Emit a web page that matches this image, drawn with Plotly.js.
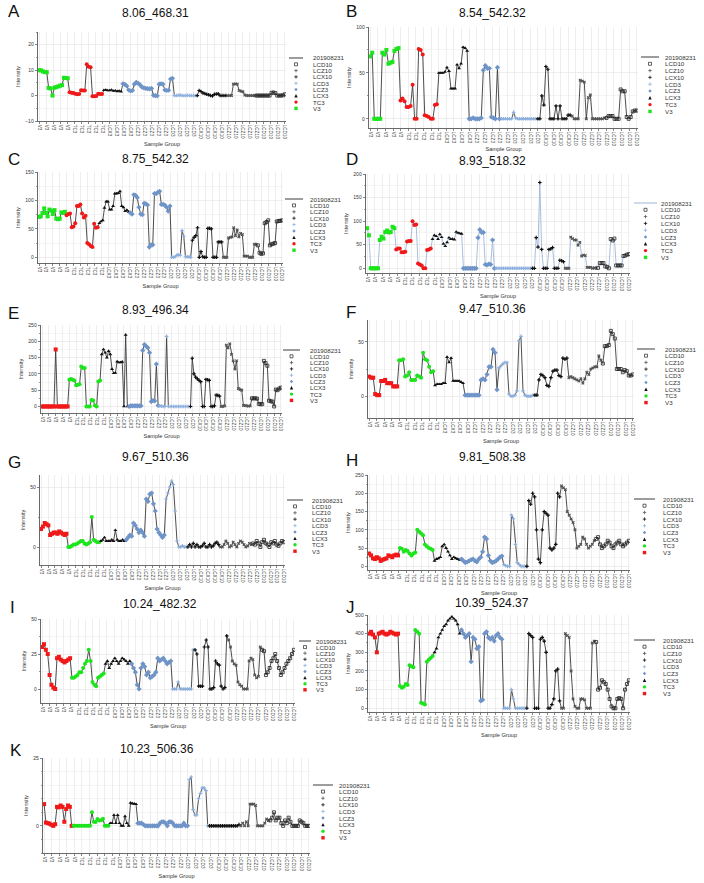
<!DOCTYPE html>
<html><head><meta charset="utf-8">
<script src="https://cdn.plot.ly/plotly-3.0.1.min.js"></script>
<style>html,body{margin:0;padding:0;background:#fff}#chart{width:704px;height:883px}</style>
</head><body><div id="chart"></div>
<script>
// ---------------- DATA ----------------
const GROUPS = ['V3','TC3','LCX3','LCZ3','LCD3','LCX10','LCZ10','LCD10'];
const LEGEND_ORDER = ['LCD10','LCZ10','LCX10','LCD3','LCZ3','LCX3','TC3','V3'];
const SERIES_NAME = '201908231';
const TICK_LABELS = ['V3','V3','V3','V3','V3','TC3','TC3','TC3','TC3','TC3','LCX3','LCX3','LCX3','LCX3',
  'LCZ3','LCZ3','LCZ3','LCZ3','LCZ3','LCD3','LCD3','LCD3','LCD3','LCX10','LCX10','LCX10','LCX10',
  'LCZ10','LCZ10','LCZ10','LCZ10','LCZ10','LCD10','LCD10','LCD10','LCD10'];
const PANEL_LETTERS = ['A','B','C','D','E','F','G','H','I','J','K'];
const PANEL_TITLES = ['8.06_468.31','8.54_542.32','8.75_542.32','8.93_518.32','8.93_496.34','9.47_510.36',
  '9.67_510.36','9.81_508.38','10.24_482.32','10.39_524.37','10.23_506.36'];

// values per group, in GROUPS order
const A_values = [
  [10, 9.9, 9.5, 9.2, 9.2, 3.0, 2.8, 0.0, 3.1, 3.3, 3.6, 3.9, 4.1, 7.0, 6.9, 6.8],
  [1.3, 1.1, 1.0, 0.7, 0.5, 0.6, 2.1, 2.0, 2.0, 12.3, 11.3, 11.1, -0.3, -0.3, -0.2, 0.7, 0.6, 0.6],
  [2.1, 2.2, 2.0, 2.0, 2.2, 1.8, 1.9, 1.7, 1.8, 1.6],
  [4.6, 4.4, 3.8, 2.2, 1.8, 2.0, 4.5, 5.2, 4.8, 4.2, 3.3, 3.0, 2.8, 2.7, 2.6, 2.8, 0.1, 0.0, -0.1, 4.5, 4.6, 4.5, 2.2, 2.0, 2.1, 6.5, 6.8],
  [0.0, 0.0, 0.1, 0.2, 0.0, 0.0, 0.0, 0.1, 0.0, 0.0, 0.0, 0.0],
  [0, 2, 1.6, 1.0, 0.8, 0.5, 0.3, 0, -0.1, 0.5, 0.6, 0.7, 0, 0, 0, 0],
  [0, 0, 0, 4.5, 4.6, 4.5, 2.0, 1.7, 1.5, 0.2, 0, 0, 0, 0, 0],
  [0, 0, 0, 0, 0, 0, 0, 0, 1.1, 1.2, 1.0, 0, 0, 0, 0.1, 0.5]
];
const B_values = [
  [68, 72, 0, 0, 0, 0, 72, 70, 75, 60, 61, 62, 74, 76, 77],
  [20, 22, 19, 13, 13, 14, 37, 0, 0, 76, 75, 70, 4, 3, 2, 0, 0, 15, 16],
  [50, 50, 50, 51, 56, 52, 33, 33, 33, 59, 55, 60, 78, 77, 74],
  [0, 0, 1, 0, 0, 0, 1, 53, 58, 55, 55, 2, 1, 0, 56, 0],
  [0, 0, 0, 0, 0, 0, 7, 1, 0, 0, 0, 0, 0, 0, 0, 0, 0, 0],
  [0, 0, 25, 15, 57, 54, 0, 0, 0, 14, 0, 14, 0, 0, 0, 4, 4],
  [3, 0, 0, 0, 42, 41, 40, 0, 23, 26, 0, 0, 0, 0, 0, 0, 1],
  [1, 3, 3, 3, 0, 0, 0, 32, 30, 30, 2, 0, 2, 8, 9, 9]
];
const C_values = [
  [71, 72, 78, 86, 78, 72, 84, 82, 76, 83, 68, 67, 68, 79, 78, 80],
  [74, 76, 77, 53, 54, 60, 90, 90, 93, 77, 70, 73, 25, 23, 20, 18, 59, 52, 53],
  [60, 63, 65, 87, 98, 98, 84, 84, 90, 112, 112, 113, 116, 90, 88, 81, 83, 80],
  [78, 76, 110, 109, 105, 88, 76, 75, 95, 94, 92, 18, 22, 22, 112, 112, 114, 116, 93, 93, 92, 88, 81, 90],
  [0, 0, 1, 4, 4, 4, 47, 37, 1, 1, 1, 0],
  [30, 35, 38, 52, 0, 10, 1, 0, 0, 51, 51, 50, 0, 0, 0, 27, 27, 27],
  [0, 0, 0, 34, 35, 36, 52, 38, 48, 36, 42, 40, 2, 2, 2, 0, 0, 0, 23, 23],
  [21, 8, 6, 7, 60, 62, 65, 21, 23, 24, 25, 63, 64, 64, 65]
];
const D_values = [
  [85, 70, 0, 0, 0, 0, 0, 60, 67, 63, 77, 80, 76, 77, 88, 85],
  [40, 42, 42, 34, 34, 35, 57, 58, 58, 100, 92, 93, 10, 8, 6, 0, 0, 39, 40, 42],
  [62, 70, 68, 62, 72, 66, 52, 47, 55, 65, 62, 62, 61, 77, 75, 74, 73],
  [0, 0, 0, 0, 0, 0, 0, 0, 65, 82, 76, 76, 8, 7, 9, 8, 60, 0],
  [0, 0, 0, 0, 0, 0, 0, 0, 0, 0, 0, 0, 0, 0, 0, 0, 0, 0, 0, 0],
  [0, 0, 65, 45, 182, 40, 0, 0, 0, 40, 41, 44, 0, 0, 0, 17, 16, 14],
  [0, 0, 0, 66, 63, 60, 60, 49, 55, 26, 28, 27, 2, 2, 2, 0, 1, 0],
  [1, 11, 11, 11, 4, 3, 0, 62, 59, 63, 6, 6, 6, 6, 26, 27, 29, 30]
];
const E_values = [
  [0, 0, 0, 0, 0, 0, 0, 0, 175, 0, 0, 0, 0, 0, 0, 0],
  [82, 84, 82, 80, 65, 67, 68, 123, 118, 118, 0, 0, 0, 20, 18, 3, 0, 77, 80],
  [160, 175, 165, 150, 170, 160, 115, 102, 103, 138, 135, 135, 137, 0, 220, 0],
  [0, 2, 2, 2, 2, 2, 2, 2, 172, 190, 185, 180, 165, 15, 18, 17, 130, 3],
  [2, 1, 0, 0, 215, 0, 0, 0, 0, 0, 0, 0, 0, 0, 0, 0, 0, 0],
  [0, 148, 100, 90, 85, 80, 76, 0, 0, 83, 82, 80, 0, 0, 2, 35, 34, 32],
  [0, 0, 2, 188, 180, 192, 160, 140, 115, 140, 55, 52, 50, 3, 3, 2, 1, 2],
  [25, 25, 25, 24, 8, 7, 7, 140, 133, 125, 18, 16, 15, 0, 52, 50, 55, 58]
];
const F_values = [
  [18, 17, 17, 2, 1, 1, 14, 14, 15, 12, 12, 12, 9, 9, 9],
  [33, 33, 34, 18, 19, 22, 15, 15, 15, 19, 18, 17, 40, 34, 33, 27, 22, 23],
  [10, 11, 11, 11, 12, 12, 36, 31, 35, 14, 14, 14, 14, 13, 12],
  [1, 1, 1, 1, 1, 1, 1, 1, 15, 16, 15, 20, 27, 27, 43, 40, 6],
  [26, 28, 30, 31, 31, 2, 0, 0, 1, 5, 51, 55, 5, 1, 0, 0, 0, 1],
  [1, 1, 15, 20, 19, 17, 10, 9, 17, 23, 24, 24, 19, 18, 35, 34, 35],
  [17, 18, 17, 16, 15, 14, 16, 12, 16, 22, 20, 25, 26, 27, 27, 37, 33],
  [30, 46, 46, 47, 60, 57, 53, 25, 25, 25, 22, 24, 23, 19, 19, 20]
];
const G_values = [
  [15, 17, 20, 19, 18, 10, 11, 12, 12, 11, 13, 12, 11, 10, 11],
  [0, 0, 1, 2, 2, 3, 4, 5, 5, 3, 2, 3, 4, 25, 6, 5, 4, 4],
  [5, 6, 8, 5, 5, 5, 6, 5, 14, 6, 5, 5, 6, 5],
  [6, 8, 10, 9, 20, 18, 15, 12, 14, 12, 9, 40, 38, 44, 45, 36, 30, 15, 12, 10, 8, 10],
  [40, 45, 50, 55, 52, 30, 5, 0, 0, 1, 0, 0],
  [0, 2, 0, 3, 0, 2, 0, 0, 1, 3, 0, 0, 2, 0, 1, 3, 4, 2],
  [0, 0, 2, 5, 3, 0, 1, 4, 2, 0, 3, 5, 4, 2, 0, 1, 3, 2],
  [3, 2, 5, 3, 0, 4, 6, 3, 2, 0, 4, 3, 5, 2, 1, 3, 5, 4]
];
const H_values = [
  [35, 30, 22, 20, 25, 22, 15, 18, 20, 22, 30, 28, 25, 30, 32, 30],
  [50, 48, 40, 45, 42, 35, 30, 35, 38, 100, 95, 90, 85, 60, 55, 50, 48, 45],
  [15, 20, 22, 25, 55, 60, 50, 40, 30, 20, 25, 22, 20, 18],
  [20, 15, 10, 12, 15, 18, 20, 15, 12, 20, 25, 40, 80, 75, 30, 15, 10, 12, 15, 20, 25, 28],
  [5, 2, 0, 0, 140, 130, 60, 10, 5, 0, 0, 0],
  [0, 180, 170, 200, 190, 100, 20, 10, 100, 150, 145, 140, 50, 45, 50, 60, 200, 190],
  [220, 215, 210, 150, 140, 130, 120, 100, 50, 55, 60, 80, 75, 60, 50, 55, 60, 70],
  [75, 80, 60, 50, 55, 60, 70, 65, 55, 50, 60, 65, 70, 60, 55, 60, 65, 70]
];
const I_values = [
  [30, 32, 28, 25, 10, 3, 1, 0, 22, 23, 21, 20, 19, 20, 21, 22],
  [8, 8, 9, 10, 12, 12, 15, 18, 20, 28, 20, 5, 3, 2, 8, 9, 10, 11],
  [18, 20, 15, 18, 20, 22, 20, 18, 20, 22, 21, 20, 18, 20],
  [18, 15, 12, 3, 0, 15, 18, 16, 10, 12, 8, 9, 10, 12, 22, 20, 21, 22, 20, 18, 19, 20],
  [0, 0, 0, 5, 0, 0, 0, 0, 0, 0, 0, 28],
  [28, 25, 2, 2, 2, 30, 35, 30, 0, 0, 1, 20, 18, 17, 2, 0, 1, 38],
  [35, 30, 20, 18, 17, 5, 3, 2, 0, 0, 0, 20, 22, 21, 10, 8, 9, 30],
  [28, 27, 10, 12, 15, 20, 22, 25, 20, 15, 10, 12, 15, 18, 20, 22, 25, 28]
];
const J_values = [
  [400, 410, 395, 380, 300, 400, 405, 410, 400, 395, 400, 410, 405, 400, 395, 400],
  [120, 110, 115, 130, 125, 230, 225, 220, 420, 410, 400, 30, 25, 20, 250, 260, 270, 280],
  [300, 320, 380, 400, 420, 440, 450, 470, 480, 490, 480, 470, 450, 400],
  [420, 400, 380, 390, 400, 250, 380, 370, 320, 330, 40, 45, 400, 410, 380, 370, 380, 360, 390, 400, 380, 370],
  [0, 0, 0, 0, 100, 50, 0, 0, 0, 0, 0, 0],
  [0, 400, 390, 380, 0, 0, 0, 370, 380, 360, 300, 0, 0, 20, 50, 200, 210, 40],
  [0, 0, 400, 390, 380, 200, 50, 10, 0, 0, 50, 50, 45, 0, 0, 0, 350, 360],
  [355, 100, 110, 150, 140, 130, 100, 50, 10, 0, 0, 50, 55, 50, 0, 100, 130, 150]
];
const K_values = [
  [8, 1.2, 1, 0.8, 0.4, 0, 0.6, 7, 6.8, 7.5, 7, 1.5, 6.2, 7.5, 7, 0],
  [0, 0, 0, 0, 0, 0, 0, 0, 0, 0, 5, 1.5, 1.4, 2.5, 2, 2.1, 2.6, 0, 0, 0],
  [1, 1, 4, 1, 4, 1, 0, 0, 3.5, 1, 0, 8.5, 8.2, 8.1, 8],
  [1, 1, 1, 0.5, 0, 0, 0, 0, 0, 0, 0, 0, 1, 1.5, 1.5, 1, 0, 1.5, 1.5, 1, 0, 0, 0, 0, 0, 1, 0, 0],
  [17, 18, 6, 4, 4, 10, 12, 14, 14, 13, 0],
  [0, 0, 0, 0, 0, 0, 0, 0, 0, 0, 0, 0, 0, 0, 0, 0, 0.5],
  [0, 1, 0, 1.5, 0, 8, 8, 8, 7.5, 0, 0, 0, 0, 1, 2.5, 2],
  [2, 3, 5, 2, 3, 3, 1, 0, 2, 1, 3, 1.5, 0, 0, 0, 0, 2, 1.5, 1, 0, 0, 0]
];
const ALL_VALUES = [A_values, B_values, C_values, D_values, E_values, F_values, G_values, H_values, I_values, J_values, K_values];

// ---------------- LAYOUT / STYLE ----------------
const W = 704, H = 883;
const FONT = 'Liberation Sans, Arial, Helvetica, sans-serif';
// pixel geometry per panel (plot area, title, letter, legend)
const SPEC = [
  {x:[38,286], y:[32,121], range:[-10,25], dtick:10, minor:5, title:[155,13], letter:[6,11], leg:{l:[289,303], tx:312, y0:58, step:6.3}, v3Green:true},
  {x:[369,638], y:[27,128], range:[-10,100], dtick:50, minor:25, title:[492,13], letter:[344,11], leg:{l:[641,659], tx:664, y0:57, step:6.8}, v3Green:true, xstand:1},
  {x:[38,283], y:[172,263], range:[-10,150], dtick:50, minor:25, title:[155,159], letter:[6,159], leg:{l:[285,303], tx:309, y0:199, step:6.4}, v3Green:true},
  {x:[366,630], y:[174,273], range:[-10,200], dtick:50, minor:25, title:[492,161], letter:[344,159], leg:{l:[634,657], tx:660, y0:203, step:6.8}, v3Green:true, line:'#9fb8da'},
  {x:[41,282], y:[325,413], range:[-20,250], dtick:50, minor:25, title:[155,310], letter:[6,313], leg:{l:[283,300], tx:309, y0:350, step:6.3}, v3Green:false},
  {x:[368,634], y:[320,418], range:[-20,70], dtick:50, minor:25, title:[492,309], letter:[344,312], leg:{l:[637,655], tx:664, y0:349, step:6.7}, v3Green:false},
  {x:[40,285], y:[475,565], range:[-15,60], dtick:50, minor:25, title:[155,457], letter:[6,462], leg:{l:[287,303], tx:311, y0:500, step:6.4}, v3Green:false},
  {x:[368,630], y:[475,570], range:[-10,250], dtick:50, minor:25, title:[492,457], letter:[344,460], leg:{l:[634,655], tx:662, y0:499, step:6.7}, v3Green:false},
  {x:[41,295], y:[619,703], range:[-10,50], dtick:25, minor:12.5, title:[160,604], letter:[8,607], leg:{l:[299,311], tx:315, y0:641, step:6.1}, v3Green:false},
  {x:[368,630], y:[615,712], range:[-20,500], dtick:100, minor:50, title:[492,603], letter:[344,607], leg:{l:[634,655], tx:662, y0:640, step:6.7}, v3Green:false},
  {x:[43,310], y:[758,853], range:[-10,25], dtick:25, minor:5, title:[157,749], letter:[8,750], leg:{l:[313,333], tx:338, y0:785, step:6.6}, v3Green:false}
];
const GREEN = '#1de41d', RED = '#f01818';
const COL = {LCX3:'#111', LCZ3:'#6f94c8', LCD3:'#8eb0de', LCX10:'#111', LCZ10:'#555', LCD10:'#222'};
function markerStyle(g, v3Green) {
  switch (g) {
    case 'V3': return {symbol:'square', size:4, color: v3Green ? GREEN : RED};
    case 'TC3': return {symbol:'circle', size:4, color: v3Green ? RED : GREEN};
    case 'LCX3': return {symbol:'triangle-up', size:3.5, color:COL.LCX3};
    case 'LCZ3': return {symbol:'diamond', size:4, color:COL.LCZ3};
    case 'LCD3': return {symbol:'cross', size:3, color:COL.LCD3};
    case 'LCX10': return {symbol:'cross', size:3, color:COL.LCX10};
    case 'LCZ10': return {symbol:'x', size:3, color:COL.LCZ10};
    case 'LCD10': return {symbol:'square-open', size:3, color:COL.LCD10, line:{width:0.8, color:COL.LCD10}};
  }
}
const px = v => v / W, py = v => 1 - v / H;
function pathOf(pts, close) {
  return pts.map((p, k) => (p[2] ? 'M' : (k === 0 ? 'M' : 'L')) + px(p[0]).toFixed(5) + ',' + py(p[1]).toFixed(5)).join(' ') + (close ? ' Z' : '');
}
// legend swatch drawn as small shapes
function legendSwatch(g, cx, cy, v3Green) {
  const r = 1.7;
  const base = {xref:'paper', yref:'paper', layer:'above'};
  switch (g) {
    case 'V3': return [Object.assign({type:'rect', x0:px(cx-r), x1:px(cx+r), y0:py(cy+r), y1:py(cy-r), fillcolor: v3Green ? GREEN : RED, line:{width:0}}, base)];
    case 'TC3': return [Object.assign({type:'circle', x0:px(cx-r), x1:px(cx+r), y0:py(cy+r), y1:py(cy-r), fillcolor: v3Green ? RED : GREEN, line:{width:0}}, base)];
    case 'LCX3': return [Object.assign({type:'path', path:pathOf([[cx, cy-r],[cx+r, cy+r],[cx-r, cy+r]], true), fillcolor:COL.LCX3, line:{width:0}}, base)];
    case 'LCZ3': return [Object.assign({type:'path', path:pathOf([[cx, cy-r],[cx+r, cy],[cx, cy+r],[cx-r, cy]], true), fillcolor:COL.LCZ3, line:{width:0}}, base)];
    case 'LCD3': case 'LCX10': case 'LCZ10':
      return [Object.assign({type:'path', path:pathOf([[cx-r, cy],[cx+r, cy],[cx, cy-r, 1],[cx, cy+r]], false), line:{width:0.8, color:COL[g]}}, base)];
    case 'LCD10': return [Object.assign({type:'rect', x0:px(cx-1.5), x1:px(cx+1.5), y0:py(cy+1.5), y1:py(cy-1.5), line:{width:0.7, color:COL.LCD10}}, base)];
  }
}

const traces = [], annotations = [], shapes = [];
const layout = {
  width: W, height: H, margin: {l:0, r:0, t:0, b:0},
  paper_bgcolor: '#fff', plot_bgcolor: '#fff', showlegend: false,
  font: {family: FONT, color: '#222'}
};

ALL_VALUES.forEach((groupVals, i) => {
  const s = SPEC[i];
  const suf = i === 0 ? '' : String(i + 1);
  const xa = 'x' + suf, ya = 'y' + suf;
  const flat = [].concat(...groupVals);
  const N = flat.length;
  const xs = flat.map((_, k) => k);
  const lineCol = s.line || '#3a3a3a';
  traces.push({type:'scatter', mode:'lines', x:xs, y:flat, xaxis:xa, yaxis:ya,
    line:{color: lineCol, width:0.9}, hoverinfo:'skip', name:SERIES_NAME});
  let start = 0;
  GROUPS.forEach((g, gi) => {
    const n = groupVals[gi].length;
    traces.push({type:'scatter', mode:'markers', x:xs.slice(start, start + n), y:groupVals[gi],
      xaxis:xa, yaxis:ya, marker:markerStyle(g, s.v3Green), name:g});
    start += n;
  });
  const tickvals = TICK_LABELS.map((_, k) => k * (N - 1) / (TICK_LABELS.length - 1));
  layout['xaxis' + suf] = {
    domain:[px(s.x[0]), px(s.x[1])], anchor:ya, range:[-0.6, N - 0.4],
    tickmode:'array', tickvals:tickvals, ticktext:TICK_LABELS, tickangle:90,
    tickfont:{size:4.6, color:'#333'}, ticks:'outside', ticklen:2, tickwidth:0.6, tickcolor:'#333',
    showgrid:true, gridcolor:'#e2e2e2', gridwidth:0.6, zeroline:false,
    showline:true, linecolor:'#444', linewidth:0.8,
    title:{text:'Sample Group', font:{size:5.6, color:'#333'}, standoff: s.xstand !== undefined ? s.xstand : 3}, fixedrange:true
  };
  layout['yaxis' + suf] = {
    domain:[py(s.y[1]), py(s.y[0])], anchor:xa, range:s.range, dtick:s.dtick, tick0:0,
    tickfont:{size:5, color:'#333'}, ticks:'outside', ticklen:2.5, tickwidth:0.6, tickcolor:'#333',
    showgrid:true, gridcolor:'#e2e2e2', gridwidth:0.6, zeroline:false,
    showline:true, linecolor:'#444', linewidth:0.8,
    minor:{dtick:s.minor, showgrid:true, gridcolor:'#ebebeb', gridwidth:0.5, ticks:'outside', ticklen:1.5, tickcolor:'#555'},
    title:{text:'Intensity', font:{size:5.6, color:'#333'}, standoff:4}, fixedrange:true
  };
  annotations.push({xref:'paper', yref:'paper', x:px(s.letter[0]), y:py(s.letter[1]), xanchor:'left', yanchor:'middle',
    text:PANEL_LETTERS[i], showarrow:false, font:{size:17, family:FONT, color:'#111'}});
  annotations.push({xref:'paper', yref:'paper', x:px(s.title[0]), y:py(s.title[1]), xanchor:'center', yanchor:'middle',
    text:PANEL_TITLES[i], showarrow:false, font:{size:12, family:FONT, color:'#111'}});
  // legend
  const L = s.leg;
  shapes.push({type:'line', xref:'paper', yref:'paper', x0:px(L.l[0]), x1:px(L.l[1]), y0:py(L.y0), y1:py(L.y0),
    line:{color: lineCol, width:1}});
  annotations.push({xref:'paper', yref:'paper', x:px(L.tx), y:py(L.y0), xanchor:'left', yanchor:'middle', borderpad:0,
    text:SERIES_NAME, showarrow:false, font:{size:6.2, family:FONT, color:'#333'}});
  const gx = (L.l[0] + L.l[1]) / 2;
  LEGEND_ORDER.forEach((g, k) => {
    const yy = L.y0 + L.step * (k + 1);
    legendSwatch(g, gx, yy, s.v3Green).forEach(sh => shapes.push(sh));
    annotations.push({xref:'paper', yref:'paper', x:px(L.tx), y:py(yy), xanchor:'left', yanchor:'middle', borderpad:0,
      text:g, showarrow:false, font:{size:6.2, family:FONT, color:'#333'}});
  });
});
layout.annotations = annotations;
layout.shapes = shapes;
Plotly.newPlot('chart', traces, layout, {staticPlot:true, displayModeBar:false});
</script>
</body></html>
